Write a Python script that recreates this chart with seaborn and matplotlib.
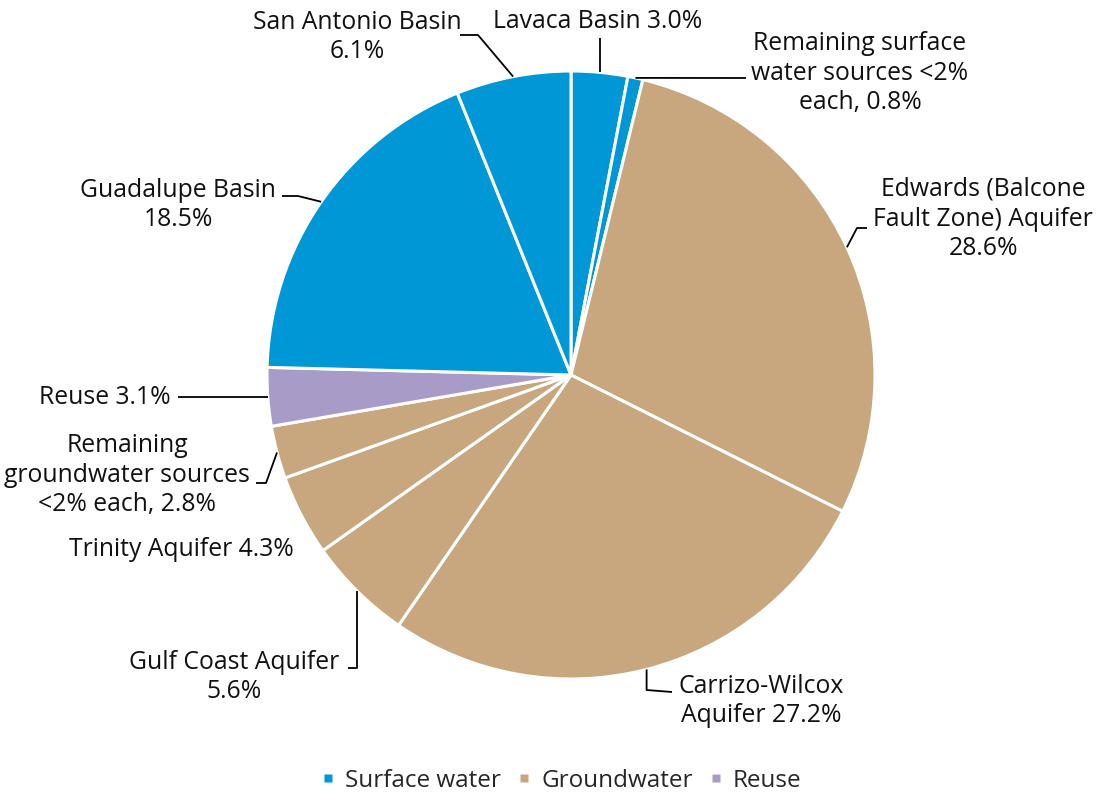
import matplotlib
matplotlib.use("Agg")
import matplotlib.pyplot as plt
from matplotlib.lines import Line2D
import numpy as np
import seaborn as sns

# Regional water supply sources, share of total (%)
sources = [
    "Lavaca Basin",
    "Remaining surface water sources <2% each",
    "Edwards (Balcone Fault Zone) Aquifer",
    "Carrizo-Wilcox Aquifer",
    "Gulf Coast Aquifer",
    "Trinity Aquifer",
    "Remaining groundwater sources <2% each",
    "Reuse",
    "Guadalupe Basin",
    "San Antonio Basin",
]
shares = [3.0, 0.8, 28.6, 27.2, 5.6, 4.3, 2.8, 3.1, 18.5, 6.1]
source_type = ["Surface water", "Surface water", "Groundwater", "Groundwater",
               "Groundwater", "Groundwater", "Groundwater", "Reuse",
               "Surface water", "Surface water"]
label_text = [
    "Lavaca Basin {:.1f}%",
    "Remaining surface\nwater sources <2%\neach, {:.1f}%",
    "Edwards (Balcone\nFault Zone) Aquifer\n{:.1f}%",
    "Carrizo-Wilcox\nAquifer {:.1f}%",
    "Gulf Coast Aquifer\n{:.1f}%",
    "Trinity Aquifer {:.1f}%",
    "Remaining\ngroundwater sources\n<2% each, {:.1f}%",
    "Reuse {:.1f}%",
    "Guadalupe Basin\n{:.1f}%",
    "San Antonio Basin\n{:.1f}%",
]
type_order = ["Surface water", "Groundwater", "Reuse"]
type_colors = {"Surface water": "#0097D6", "Groundwater": "#C8A67E", "Reuse": "#A99BC8"}

sns.set_theme(style="white")
plt.rcParams["font.family"] = ["Open Sans", "DejaVu Sans"]

FS = 17.8
W, H = 1096, 795
fig = plt.figure(figsize=(W / 100, H / 100), dpi=100)
ax = fig.add_axes([0, 0, 1, 1])


def P(px, py):
    """Convert top-left based pixel position to axes data coordinates."""
    return px, H - py


cx, cy = P(571, 375)
R = 304
wedges, _ = ax.pie(
    shares,
    colors=[type_colors[t] for t in source_type],
    startangle=90,
    counterclock=False,
    center=(cx, cy),
    radius=R,
    wedgeprops=dict(edgecolor="white", linewidth=2.2),
)
ax.set_xlim(0, W)
ax.set_ylim(0, H)
ax.set_aspect("equal")
ax.axis("off")

# label placement: (text centre, leader elbow, leader end), pixel coords
# "v<y>" = straight vertical from the wedge to pixel row y
# "h<x>" = straight horizontal from the wedge to pixel column x
layout = [
    ((598, 21), None, "v38"),
    ((860, 73), None, (746, 78)),
    ((983, 219), (857, 228), (867, 228)),
    ((761, 701), "v690", (672, 692)),
    ((234, 677), "v668", (348, 668)),
    ((181, 549), None, None),
    ((127, 475), (266, 483), (256, 483)),
    ((105, 397), None, "h178"),
    ((178, 205), (298, 196), (282, 196)),
    ((357, 37), (478, 35), (460, 35)),
]


def resolve(spec, ax_, ay_):
    if isinstance(spec, str):
        v = int(spec[1:])
        return (ax_, H - v) if spec[0] == "v" else (v, ay_)
    return P(*spec)


for w, val, fmt, (tpos, elbow, end) in zip(wedges, shares, label_text, layout):
    ang = np.deg2rad((w.theta1 + w.theta2) / 2)
    ax_, ay_ = cx + R * np.cos(ang), cy + R * np.sin(ang)
    pts = [(ax_, ay_)]
    for spec in (elbow, end):
        if spec is not None:
            pts.append(resolve(spec, ax_, ay_))
    if len(pts) > 1:
        xs, ys = zip(*pts)
        ax.plot(xs, ys, color="black", lw=1.3, solid_capstyle="butt")
    tx, ty = P(*tpos)
    ax.text(tx, ty, fmt.format(val), ha="center", va="center",
            fontsize=FS, color="#111111", linespacing=1.24)

handles = [Line2D([], [], marker="s", linestyle="none", markersize=5.5,
                  markerfacecolor=type_colors[t], markeredgecolor="none")
           for t in type_order]
fig.legend(handles, type_order, loc="center", ncol=3, frameon=False,
           bbox_to_anchor=(562 / W, 1 - 781 / H), fontsize=17.5,
           handlelength=0.5, handletextpad=0.45, columnspacing=0.7)

fig.savefig("out.png", dpi=100)
